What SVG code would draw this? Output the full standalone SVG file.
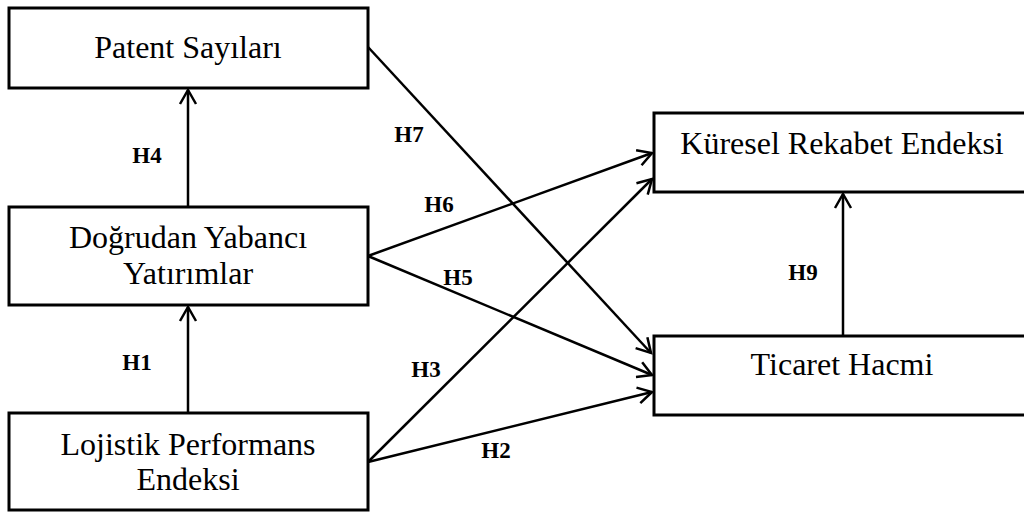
<svg xmlns="http://www.w3.org/2000/svg" width="1024" height="512" viewBox="0 0 1024 512">
  <style>
    .box { fill: #fff; stroke: #000; stroke-width: 3; }
    .lbl { font-family: "Liberation Serif", "Times New Roman", serif; font-size: 32px; fill: #000; text-anchor: middle; }
    .hyp { font-family: "Liberation Serif", "Times New Roman", serif; font-size: 23px; font-weight: bold; fill: #000; text-anchor: middle; }
    .edge { stroke: #000; stroke-width: 2.5; fill: none; marker-end: url(#arrow); }
  </style>
  <defs>
    <marker id="arrow" markerUnits="userSpaceOnUse" markerWidth="20" markerHeight="20" viewBox="0 0 20 20" refX="15" refY="10" orient="auto">
      <path d="M1,2 L15,10 L1,18" fill="none" stroke="#000" stroke-width="2.5"/>
    </marker>
  </defs>

  <rect width="1024" height="512" fill="#fff"/>

  <g id="connectors">
    <line class="edge" x1="188" y1="206" x2="188" y2="90"/>
    <line class="edge" x1="188" y1="412" x2="188" y2="307"/>
    <line class="edge" x1="843" y1="335" x2="843" y2="194"/>
    <line class="edge" x1="368" y1="47" x2="651" y2="353"/>
    <line class="edge" x1="368" y1="256" x2="652" y2="153"/>
    <line class="edge" x1="368" y1="256" x2="652" y2="375"/>
    <line class="edge" x1="368" y1="462" x2="652" y2="179"/>
    <line class="edge" x1="368" y1="462" x2="652" y2="392"/>
  </g>

  <g id="labels">
    <text class="hyp" x="409" y="142">H7</text>
    <text class="hyp" x="147" y="163">H4</text>
    <text class="hyp" x="439" y="212">H6</text>
    <text class="hyp" x="458" y="285">H5</text>
    <text class="hyp" x="803" y="280">H9</text>
    <text class="hyp" x="137" y="370">H1</text>
    <text class="hyp" x="426" y="377">H3</text>
    <text class="hyp" x="496" y="458">H2</text>
  </g>

  <g id="patent">
    <rect class="box" x="9" y="8" width="359" height="80"/>
    <text class="lbl" x="188" y="58">Patent Sayıları</text>
  </g>

  <g id="dyy">
    <rect class="box" x="9" y="207" width="359" height="98"/>
    <text class="lbl" x="188" y="248">Doğrudan Yabancı</text>
    <text class="lbl" x="188" y="284">Yatırımlar</text>
  </g>

  <g id="lpe">
    <rect class="box" x="9" y="413" width="359" height="97"/>
    <text class="lbl" x="188" y="455">Lojistik Performans</text>
    <text class="lbl" x="188" y="490">Endeksi</text>
  </g>

  <g id="kre">
    <rect class="box" x="654" y="113" width="380" height="79"/>
    <text class="lbl" x="842" y="154">Küresel Rekabet Endeksi</text>
  </g>

  <g id="ticaret">
    <rect class="box" x="654" y="336" width="380" height="79"/>
    <text class="lbl" x="842" y="375">Ticaret Hacmi</text>
  </g>
</svg>
